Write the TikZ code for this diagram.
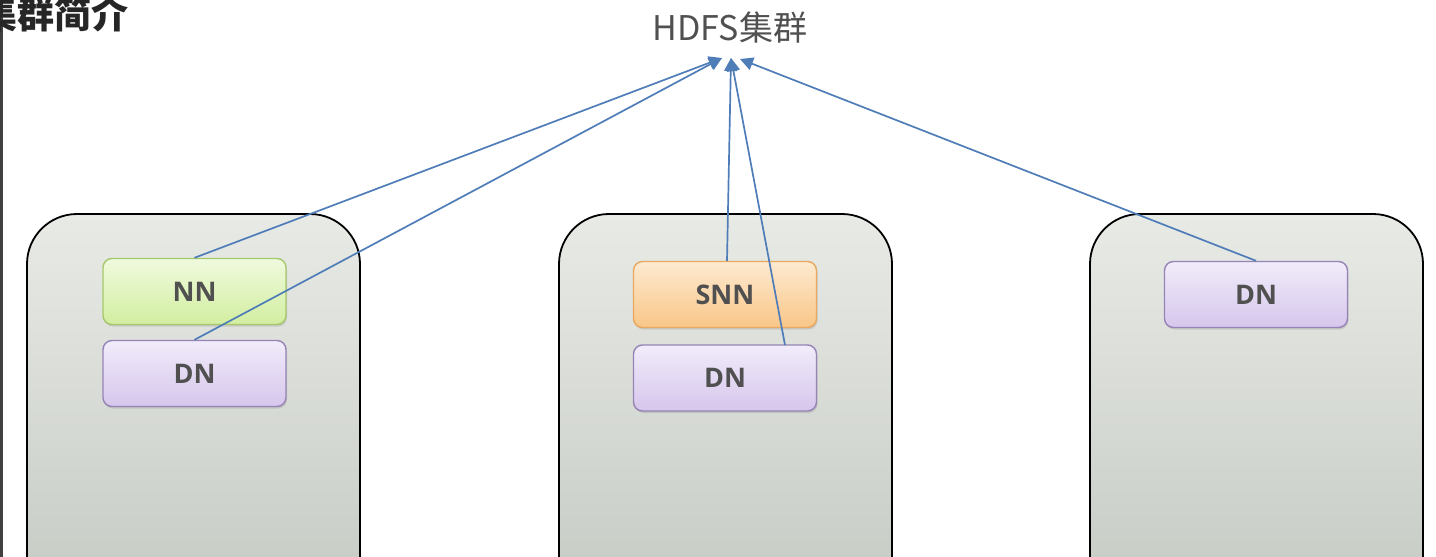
\documentclass[tikz,border=0pt]{standalone}
\usepackage{fontspec}
\setmainfont{Open Sans}
\newfontfamily\cjk{Noto Sans CJK SC}
\usetikzlibrary{arrows.meta,shadows}
\definecolor{conn}{HTML}{4F7DB8}
\definecolor{lbl}{HTML}{505050}
\tikzset{
  host/.style={draw=black, line width=1.8pt, rounded corners=50pt, top color={rgb,255:red,232;green,234;blue,230}, bottom color={rgb,255:red,196;green,201;blue,194}},
  role/.style={rounded corners=9pt, line width=1.4pt, minimum width=183pt, minimum height=66pt, font=\bfseries\fontsize{27}{30}\selectfont, text=lbl, drop shadow={shadow xshift=1pt, shadow yshift=-2pt, opacity=0.25}},
  nnbox/.style={role, draw={rgb,255:red,166;green,200;blue,106}, top color={rgb,255:red,240;green,250;blue,222}, bottom color={rgb,255:red,210;green,238;blue,160}},
  dnbox/.style={role, draw={rgb,255:red,150;green,132;blue,182}, top color={rgb,255:red,241;green,236;blue,250}, bottom color={rgb,255:red,214;green,198;blue,236}},
  snnbox/.style={role, draw={rgb,255:red,232;green,168;blue,96}, top color={rgb,255:red,253;green,234;blue,208}, bottom color={rgb,255:red,249;green,198;blue,136}},
  link/.style={draw=conn, line width=1.7pt, -{Triangle[length=13pt,width=13pt]}}
}
\begin{document}
\begin{tikzpicture}[x=1pt,y=-1pt]
\clip (0,0) rectangle (1436,557);
\fill[white] (0,0) rectangle (1436,557);
\fill[black!75] (0,0) rectangle (3,557);
\node[anchor=west, inner sep=0, font=\cjk\bfseries\fontsize{37}{40}\selectfont, text=black!85] (title) at (-20,14) {集群简介};
\node[font=\cjk\fontsize{34}{38}\selectfont, text=lbl] (hdfs) at (730,28) {HDFS集群};
\path[host] (27,214) rectangle (360,620);
\path[host] (559,214) rectangle (892,620);
\path[host] (1090,214) rectangle (1423,620);
\node[nnbox] (nn) at (194.5,291.5) {NN};
\node[dnbox] (dn1) at (194.5,373.5) {DN};
\node[snnbox] (snn) at (725,294.5) {SNN};
\node[dnbox] (dn2) at (725,378) {DN};
\node[dnbox] (dn3) at (1256,294.5) {DN};
\coordinate (tA) at (722,58);
\coordinate (tB) at (731,58);
\coordinate (tC) at (740,59);
\coordinate (dn2a) at (785,345);
\coordinate (snna) at (727,261);
\draw[link] (nn.north) -- (tA);
\draw[link] (dn1.north) -- (tA);
\draw[link] (snna) -- (tB);
\draw[link] (dn2a) -- (tB);
\draw[link] (dn3.north) -- (tC);
\end{tikzpicture}
\end{document}
